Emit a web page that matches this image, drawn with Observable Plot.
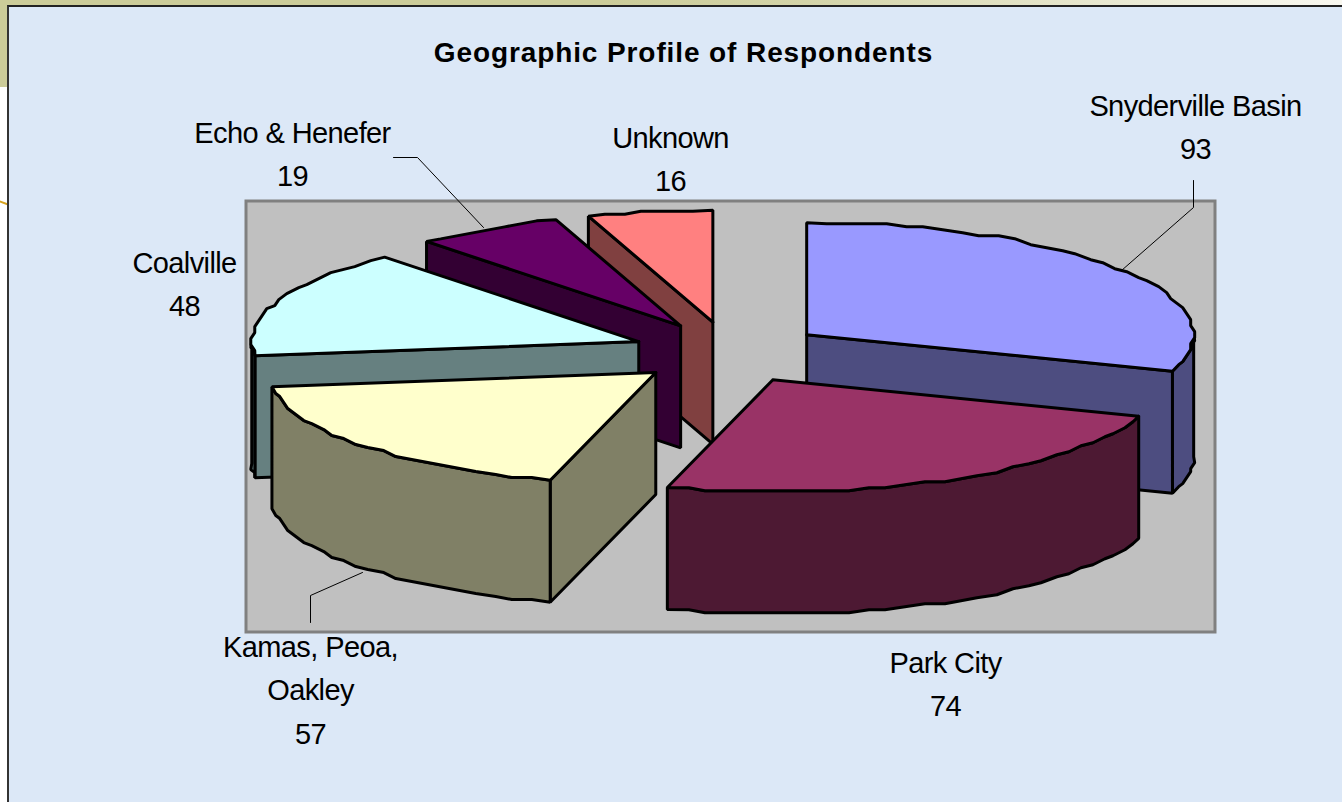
<!DOCTYPE html>
<html>
<head>
<meta charset="utf-8">
<script src="https://cdn.jsdelivr.net/npm/d3@7"></script>
<script src="https://cdn.jsdelivr.net/npm/@observablehq/plot@0.6"></script>
<style>
  html, body { margin: 0; padding: 0; width: 1342px; height: 802px; overflow: hidden; background: #fff; }
  #band { position: absolute; left: 0; top: 0; width: 1342px; height: 87px;
          background: linear-gradient(90deg, #cccc99 0%, #cccc99 45%, #d4d4a8 60%, #f9f8f0 100%); }
  #spark { position: absolute; left: -1px; top: 202px; width: 10px; height: 2px; background: #d6a21e; transform: rotate(20deg); }
  #panel { position: absolute; left: 7px; top: 5px; width: 1335px; height: 797px; box-sizing: border-box;
           background: #dce8f7; border-left: 2px solid #333; border-top: 2px solid #222; }
  #chart { position: absolute; left: 0; top: 0; }
  svg { background: transparent !important; display: block; }
  .lbl, .lbl text { letter-spacing: -0.6px; }
  .ttl, .ttl text { letter-spacing: 0.9px; }
</style>
</head>
<body>
<div id="band"></div><div id="spark"></div><div id="panel"></div><div id="chart"></div>
<script>
// ---- data ----
const categories = ["Snyderville Basin", "Park City", "Kamas, Peoa,\nOakley", "Coalville", "Echo & Henefer", "Unknown"];
const values = [93, 74, 57, 48, 19, 16];
const topColors = ["#9999ff", "#993366", "#ffffcc", "#ccffff", "#660066", "#ff8080"];
const sideColors = ["#4d4d80", "#4d1933", "#808066", "#668080", "#330033", "#804040"];
const title = "Geographic Profile of Respondents";

// ---- layout of the exploded 3-D pie ----
const W = 1342, H = 802;
const cx = 728, cy = 352, rx = 387, ry = 112, depth = 122, explode = 96, explodeTilt = 0.32;
const drawOrder = [5, 4, 3, 2, 0, 1];
const plotArea = {x1: 246, x2: 1215, y1: 201, y2: 632};
const labelAt = [[1195, 128], [945, 685], [310, 691], [184, 285], [292, 155], [670, 160]];
const leaders = [
  [[1193, 180], [1193, 207], [1121, 270]],
  [[310, 622], [310, 595], [362, 572]],
  [[393, 157], [417, 157], [483, 227]]
];

const total = d3.sum(values);
let running = 0;
const slices = values.map((v, i) => {
  const a0 = running / total * 2 * Math.PI;
  running += v;
  const a1 = running / total * 2 * Math.PI;
  const mid = (a0 + a1) / 2;
  return {i, a0, a1, ax: cx + explode * Math.sin(mid), ay: cy - explode * explodeTilt * Math.cos(mid)};
});

// coarse outline like the low-resolution polygon of the source renderer
const snap = (v, g) => Math.round(v / g) * g;
function rimPoints(s, a0, a1) {
  const n = Math.max(2, Math.ceil((a1 - a0) / (3 * Math.PI / 180)));
  const pts = [];
  for (let k = 0; k <= n; k++) {
    const t = a0 + (a1 - a0) * k / n;
    const ex = rx * Math.sin(t), ey = -ry * Math.cos(t);
    const end = k === 0 || k === n;
    pts.push({x: s.ax + (end ? ex : snap(ex, 4)), y: s.ay + (end ? ey : snap(ey, 3))});
  }
  return pts;
}
const closed = pts => [...pts, pts[0]];
const down = p => ({x: p.x, y: p.y + depth});

function facesOf(s) {
  const faces = [];
  const c = sideColors[s.i], apex = {x: s.ax, y: s.ay};
  const edge = a => ({x: s.ax + rx * Math.sin(a), y: s.ay - ry * Math.cos(a)});
  if (Math.sin(s.a0) < -1e-6) faces.push({pts: closed([apex, edge(s.a0), down(edge(s.a0)), down(apex)]), fill: c});
  if (Math.sin(s.a1) > 1e-6) faces.push({pts: closed([apex, edge(s.a1), down(edge(s.a1)), down(apex)]), fill: c});
  const lo = Math.max(s.a0, Math.PI / 2), hi = Math.min(s.a1, 3 * Math.PI / 2);
  if (hi > lo) {
    const rim = rimPoints(s, lo, hi);
    faces.push({pts: closed([...rim, ...rim.slice().reverse().map(down)]), fill: c});
  }
  faces.push({pts: closed([apex, ...rimPoints(s, s.a0, s.a1)]), fill: topColors[s.i]});
  return faces;
}

const pieMarks = drawOrder.flatMap(i => facesOf(slices[i]).map(f =>
  Plot.line(f.pts, {x: "x", y: "y", fill: f.fill, stroke: "#000", strokeWidth: 3, strokeLinejoin: "miter", curve: "linear"})
));

const labelRows = categories.map((c, i) => ({text: `${c}\n${values[i]}`, x: labelAt[i][0], y: labelAt[i][1] - 5}));
const font = "'Liberation Sans', Arial, sans-serif";

const chart = Plot.plot({
  width: W, height: H, margin: 0,
  x: {domain: [0, W], range: [0, W], axis: null},
  y: {domain: [0, H], range: [0, H], axis: null},
  style: {background: "transparent"},
  marks: [
    Plot.rect([plotArea], {x1: "x1", x2: "x2", y1: "y1", y2: "y2", fill: "#c0c0c0", stroke: "#808080", strokeWidth: 3}),
    ...pieMarks,
    ...leaders.map(l => Plot.line(l, {x: d => d[0], y: d => d[1], stroke: "#000", strokeWidth: 1})),
    Plot.text(labelRows, {x: "x", y: "y", text: "text", fontFamily: font, fontSize: 29, lineHeight: 1.5, fill: "#000", textAnchor: "middle", className: "lbl"}),
    Plot.text([title], {x: () => 683, y: () => 53, text: d => d, fontFamily: font, fontSize: 28, fontWeight: "bold", fill: "#000", className: "ttl"})
  ]
});
document.getElementById("chart").appendChild(chart);
</script>
</body>
</html>
